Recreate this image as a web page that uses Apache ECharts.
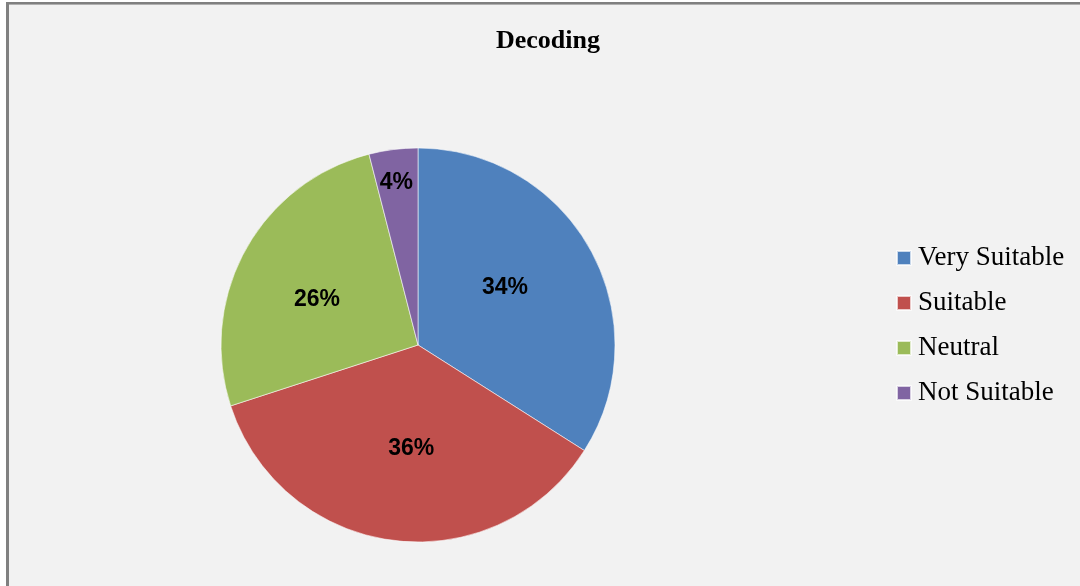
<!DOCTYPE html>
<html>
<head>
<meta charset="utf-8">
<script src="https://cdn.jsdelivr.net/npm/echarts@6/dist/echarts.min.js"></script>
<style>
html,body{margin:0;padding:0;background:#fff;}
#c{width:1080px;height:586px;}
</style>
</head>
<body>
<div id="c"></div>
<script>
const titleText = 'Decoding';
const categories = ['Very Suitable', 'Suitable', 'Neutral', 'Not Suitable'];
const values = [34, 36, 26, 4];
const colors = ['#4f81bd', '#c0504d', '#9bbb59', '#8064a2'];

const labelShift = [[-2, -8], [6, 3], [-12, 4], [-9, -62]];

const chart = echarts.init(document.getElementById('c'), null, {renderer: 'canvas'});
chart.setOption({
  backgroundColor: '#ffffff',
  animation: false,
  graphic: [
    {type: 'rect', z: -10, silent: true, shape: {x: 6, y: 2, width: 1074, height: 584}, style: {fill: '#f2f2f2'}},
    {type: 'rect', z: -9, silent: true, shape: {x: 6, y: 2, width: 3, height: 584}, style: {fill: '#808080'}},
    {type: 'rect', z: -9, silent: true, shape: {x: 6, y: 2, width: 1074, height: 2}, style: {fill: '#808080'}},
    {type: 'rect', z: -9, silent: true, shape: {x: 9, y: 4, width: 1071, height: 1}, style: {fill: '#b0b0b0'}}
  ],
  title: {
    text: titleText,
    left: 496,
    top: 28,
    padding: 0,
    textStyle: {fontFamily: 'Liberation Serif', fontWeight: 'bold', fontSize: 26, color: '#000'}
  },
  legend: {
    orient: 'vertical',
    left: 896,
    top: 244,
    padding: 0,
    icon: 'rect',
    itemWidth: 14,
    itemHeight: 14,
    itemGap: 17,
    data: categories,
    textStyle: {fontFamily: 'Liberation Serif', fontSize: 27, lineHeight: 28, color: '#000', padding: [0, 0, 0, 2]}
  },
  series: [{
    type: 'pie',
    center: [418, 345],
    radius: [0, 197],
    startAngle: 90,
    clockwise: true,
    color: colors,
    itemStyle: {borderColor: 'rgba(255,255,255,0.7)', borderWidth: 0.8},
    label: {
      show: true,
      position: 'inside',
      formatter: '{c}%',
      fontFamily: 'Liberation Sans',
      fontWeight: 'bold',
      fontSize: 23,
      color: '#000'
    },
    labelLine: {show: false},
    labelLayout: function (p) {
      const s = labelShift[p.dataIndex];
      return {dx: s[0], dy: s[1]};
    },
    emphasis: {disabled: true},
    data: categories.map((n, i) => ({name: n, value: values[i]}))
  }]
});
</script>
</body>
</html>
